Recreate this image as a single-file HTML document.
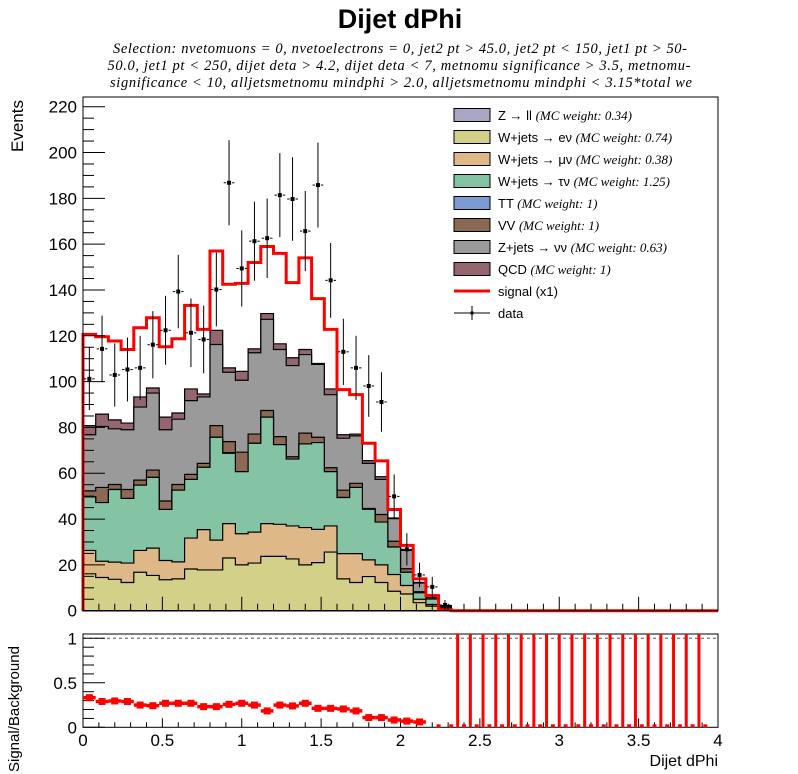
<!DOCTYPE html>
<html><head><meta charset="utf-8"><style>
html,body{margin:0;padding:0;background:#fff;}
svg{display:block;}
text{font-family:"Liberation Sans",sans-serif;}
.ser{font-family:"Liberation Serif",serif;font-style:italic;}
</style></head><body>
<svg id="c" width="798" height="774" viewBox="0 0 798 774" xmlns="http://www.w3.org/2000/svg">
<text x="400" y="28" text-anchor="middle" font-size="27" font-weight="bold">Dijet dPhi</text>
<text class="ser" x="400" y="53" text-anchor="middle" font-size="14.5" textLength="574">Selection: nvetomuons = 0, nvetoelectrons = 0, jet2 pt &gt; 45.0, jet2 pt &lt; 150, jet1 pt &gt; 50-</text>
<text class="ser" x="399" y="70" text-anchor="middle" font-size="14.5" textLength="583">50.0, jet1 pt &lt; 250, dijet deta &gt; 4.2, dijet deta &lt; 7, metnomu significance &gt; 3.5, metnomu-</text>
<text class="ser" x="401" y="87" text-anchor="middle" font-size="14.5" textLength="582">significance &lt; 10, alljetsmetnomu mindphi &gt; 2.0, alljetsmetnomu mindphi &lt; 3.15*total we</text>
<text transform="translate(23,152) rotate(-90)" font-size="17">Events</text>
<text transform="translate(19,772) rotate(-90)" font-size="15">Signal/Background</text>
<text x="718" y="766" text-anchor="end" font-size="16">Dijet dPhi</text>
<g id="main"></g>
<g id="ratio"></g>
<g id="legend"></g>
</svg>
<script>
const nBins = 50, xMin = 0, xMax = 4;
const zll = [0,0,0,0,0,0,0,0,0,0,0,0,0,0,0,0,0,0,0,0,0,0,0,0,0,0,0,0,0,0,0,0,0,0,0,0,0,0,0,0,0,0,0,0,0,0,0,0,0,0];
const wen = [16.1,14.5,13.7,12.3,16.8,15.4,13.5,13.9,18.2,17.8,17.8,23.0,20.0,20.8,23.7,23.7,22.6,20.0,21.0,25.6,13.9,12.3,14.9,12.3,8.5,7.3,3.5,2.0,0.6,0,0,0,0,0,0,0,0,0,0,0,0,0,0,0,0,0,0,0,0,0];
const wmn = [10.2,7.1,7.5,8.5,9.5,11.9,8.4,7.4,13.5,17.6,13.0,15.0,13.6,13.5,14.3,14.0,14.4,16.3,14.5,11.4,11.0,12.6,7.3,7.7,7.3,3.7,1.5,0.7,0.4,0,0,0,0,0,0,0,0,0,0,0,0,0,0,0,0,0,0,0,0,0];
const wtn = [23.4,25.6,31.7,28.2,28.5,30.9,22.3,31.3,25.6,27.2,44.9,30.7,27.1,38.8,46.5,34.8,29.2,36.5,37.9,23.7,24.5,28.9,22.1,18.7,12.0,5.8,2.8,2.4,0.5,0,0,0,0,0,0,0,0,0,0,0,0,0,0,0,0,0,0,0,0,0];
const ttb = [0,0,0,0,0,0,0,0,0,0,0,0.3,0,0,0,0,0,0,0,0,0,0,0,0,0,0,0,0,0,0,0,0,0,0,0,0,0,0,0,0,0,0,0,0,0,0,0,0,0,0];
const vv  = [2.6,6.6,2.2,3.9,2.2,3.2,3.7,2.5,2.2,1.7,5.1,4.8,8.5,4.0,2.9,3.5,1.0,4.7,2.3,1.7,3.2,1.8,0.3,3.3,2.5,1.5,0.5,0.7,0.2,0,0,0,0,0,0,0,0,0,0,0,0,0,0,0,0,0,0,0,0,0];
const znn = [24.5,26.6,24.3,26.1,31.9,33.6,31.1,28.5,32.2,29.0,35.4,30.3,31.4,35.5,39.8,38.0,39.8,34.3,31.8,31.9,22.7,20.7,19.7,15.3,9.9,8.0,3.8,0.8,0.3,0,0,0,0,0,0,0,0,0,0,0,0,0,0,0,0,0,0,0,0,0];
const qcd = [4.0,5.4,3.9,2.9,4.4,2.2,5.5,2.7,5.1,1.3,6.2,1.9,3.9,1.7,2.5,2.5,3.4,2.2,0.4,2.5,1.5,0.8,1.2,1.2,0.3,0.3,0.3,0.3,0.2,0,0,0,0,0,0,0,0,0,0,0,0,0,0,0,0,0,0,0,0,0];
const signal = [120.6,119.6,117.7,114,123.5,127.9,115.2,118.7,133.3,122.8,157,142.5,142.9,152,159,156,143.2,154,136.2,122.8,96.5,94.3,73.1,65.4,44.2,28.5,13.9,6.6,0.4,0,0,0,0,0,0,0,0,0,0,0,0,0,0,0,0,0,0,0,0,0];
const data = [101.2,114.3,102.9,105.3,106,116.1,122.4,139.3,121.3,118.4,140.2,186.8,149.4,161.3,162.6,181.4,179.7,165.7,185.8,144.2,113,106,98.1,91.1,49.9,26.8,15.6,10.4,2.5,0,0,0,0,0,0,0,0,0,0,0,0,0,0,0,0,0,0,0,0,0];
const ratio = [0.333,0.29,0.296,0.29,0.25,0.243,0.27,0.27,0.27,0.232,0.232,0.258,0.27,0.25,0.184,0.25,0.24,0.27,0.213,0.213,0.206,0.184,0.109,0.109,0.082,0.07,0.06,0,0,0,0,0,0,0,0,0,0,0,0,0,0,0,0,0,0,0,0,0,0,0];
const ratioErr = [0.025,0.025,0.025,0.025,0.025,0.025,0.025,0.025,0.025,0.025,0.025,0.025,0.025,0.025,0.025,0.025,0.025,0.025,0.025,0.025,0.025,0.025,0.025,0.025,0.025,0.025,0.025,0,0,1.2,1.2,1.2,1.2,1.2,1.2,1.2,1.2,1.2,1.2,1.2,1.2,1.2,1.2,1.2,1.2,1.2,1.2,1.2,1.2,0];
const yTicks = [0,20,40,60,80,100,120,140,160,180,200,220];
const xTickLabels = [0,0.5,1,1.5,2,2.5,3,3.5,4];
const ratioTicks = [0,0.5,1];
const legendLabels = ["Z \u2192 ll","W+jets \u2192 e\u03bd","W+jets \u2192 \u03bc\u03bd","W+jets \u2192 \u03c4\u03bd","TT","VV","Z+jets \u2192 \u03bd\u03bd","QCD"];
const legendWeights = ["0.34","0.74","0.38","1.25","1","1","0.63","1"];

const NS = "http://www.w3.org/2000/svg";
const L = 83, R = 718, T = 97, B = 610.7;
const RT = 634, RB = 727.3;
const colors = ["#a9a6c6","#d3d08a","#dfb887","#84c3a3","#7b9bd1","#8b6955","#9a9a9a","#946670"];
const X = v => L + (v - xMin) / (xMax - xMin) * (R - L);
const Y = v => B - v * (B - 106.7) / 220;
const RY = v => Math.max(RT, 727.3 - v * 89);
const bw = (xMax - xMin) / nBins;
function mk(tag, attrs, parent){ const e = document.createElementNS(NS, tag); for (const k in attrs) e.setAttribute(k, attrs[k]); parent.appendChild(e); return e; }
const main = document.getElementById('main');
const ratioG = document.getElementById('ratio');
const legend = document.getElementById('legend');

const comps = [zll, wen, wmn, wtn, ttb, vv, znn, qcd];
const names = ['stack-zll','stack-w-enu','stack-w-munu','stack-w-taunu','stack-ttbar','stack-vv','stack-z-nunu','stack-qcd'];
const cum = [];
let run = new Array(nBins).fill(0);
for (let c = 0; c < comps.length; c++){ run = run.map((v,i)=>v+comps[c][i]); cum.push(run.slice()); }
for (let c = comps.length - 1; c >= 0; c--){
  let d = `M${X(0)},${B}`;
  for (let i = 0; i < nBins; i++){ const y = Y(cum[c][i]); d += ` L${X(i*bw)},${y} L${X((i+1)*bw)},${y}`; }
  d += ` L${X(xMax)},${B} Z`;
  const p = mk('path', {d:d, fill:colors[c], stroke:'#000', 'stroke-width':1.2}, main);
  
  
}
{
  let d = `M${X(0)},${B}`;
  for (let i = 0; i < nBins; i++){ const y = Y(signal[i]); d += ` L${X(i*bw)},${y} L${X((i+1)*bw)},${y}`; }
  const p = mk('path', {d:d, fill:'none', stroke:'#ff0000', 'stroke-width':3}, main);
  
  
}
for (let i = 0; i < nBins; i++){
  if (data[i] <= 0) continue;
  const g = mk('g', {}, main);
  
  
  const cx = X((i+0.5)*bw), cy = Y(data[i]), e = 1.36*Math.sqrt(data[i]);
  mk('line', {x1:cx, x2:cx, y1:Math.max(T,Y(data[i]+e)), y2:Math.min(B,Y(data[i]-e)), stroke:'#000', 'stroke-width':1}, g);
  mk('line', {x1:X(i*bw)+1, x2:cx-3, y1:cy, y2:cy, stroke:'#000', 'stroke-width':1}, g);
  mk('line', {x1:cx+3, x2:X((i+1)*bw)-1, y1:cy, y2:cy, stroke:'#000', 'stroke-width':1}, g);
  mk('rect', {x:cx-2, y:cy-2, width:4, height:4, fill:'#000'}, g);
}
const fr = mk('rect', {x:L, y:T, width:R-L, height:B-T, fill:'none', stroke:'#000', 'stroke-width':1}, main);


for (let v = 0; v <= 220; v += 5){
  const maj = v % 20 === 0;
  mk('line', {x1:L, x2:L+(maj?22:11), y1:Y(v), y2:Y(v), stroke:'#000', 'stroke-width':1}, main);
}
yTicks.forEach(v => {
  const t = mk('text', {x:77, y:Y(v)+6, 'text-anchor':'end', 'font-size':17}, main);
  t.textContent = v;
  
  
});
for (let k = 0; k <= 40; k++){
  const v = k*0.1, maj = k % 5 === 0;
  mk('line', {x1:X(v), x2:X(v), y1:B, y2:B-(maj?14:7), stroke:'#000', 'stroke-width':1}, main);
  mk('line', {x1:X(v), x2:X(v), y1:RB, y2:RB-(maj?9:5), stroke:'#000', 'stroke-width':1}, ratioG);
}
const rf = mk('rect', {x:L, y:RT, width:R-L, height:RB-RT, fill:'none', stroke:'#000', 'stroke-width':1}, ratioG);


const dl = mk('line', {x1:L, x2:R, y1:RY(1), y2:RY(1), stroke:'#555', 'stroke-width':1, 'stroke-dasharray':'3,3'}, ratioG);


for (let v = 0; v <= 1.0001; v += 0.1){
  const maj = Math.abs(v*2 - Math.round(v*2)) < 1e-6;
  mk('line', {x1:L, x2:L+(maj?22:11), y1:RY(v), y2:RY(v), stroke:'#000', 'stroke-width':1}, ratioG);
}
ratioTicks.forEach(v => {
  const t = mk('text', {x:77, y:RY(v)+6, 'text-anchor':'end', 'font-size':17}, ratioG);
  t.textContent = v;
  
  
});
xTickLabels.forEach(v => {
  const t = mk('text', {x:X(v), y:746, 'text-anchor':'middle', 'font-size':17}, ratioG);
  t.textContent = v;
  
  
});
for (let i = 0; i < nBins; i++){
  const g = mk('g', {}, ratioG);
  
  
  const cx = X((i+0.5)*bw), cy = RY(ratio[i]);
  if (ratio[i] > 0){
    mk('line', {x1:X(i*bw), x2:X((i+1)*bw), y1:cy, y2:cy, stroke:'#ff0000', 'stroke-width':3.5}, g);
    mk('line', {x1:cx, x2:cx, y1:RY(ratio[i]+ratioErr[i]), y2:RY(ratio[i]-ratioErr[i]), stroke:'#ff0000', 'stroke-width':3.5}, g);
    mk('rect', {x:cx-3.5, y:cy-3.5, width:7, height:7, fill:'#ff0000'}, g);
  } else if (i >= 28) {
    mk('line', {x1:X(i*bw)-2, x2:X(i*bw)+2, y1:RB-1.5, y2:RB-1.5, stroke:'#ff0000', 'stroke-width':3}, g);
    if (ratioErr[i] > 0) mk('line', {x1:cx, x2:cx, y1:RY(ratioErr[i]), y2:RB, stroke:'#ff0000', 'stroke-width':3}, g);
  }
}
for (let k = 0; k < 8; k++){
  const y = 115 + k*22;
  const r = mk('rect', {x:454, y:y-6.5, width:36, height:13, fill:colors[k], stroke:'#000', 'stroke-width':1}, legend);
  
  
  const t = mk('text', {x:498, y:y+5, 'font-size':13}, legend);
  
  
  const a = mk('tspan', {}, t); a.textContent = legendLabels[k] + ' ';
  const b = mk('tspan', {'class':'ser', 'font-size':13}, t); b.textContent = '(MC weight: ' + legendWeights[k] + ')';
}
{
  const y = 291;
  const l = mk('line', {x1:454, x2:490, y1:y, y2:y, stroke:'#ff0000', 'stroke-width':3}, legend);
  
  
  const t = mk('text', {x:498, y:y+5, 'font-size':13}, legend);
  t.textContent = 'signal (x1)';
  
  
  const y2 = 313;
  const g = mk('g', {}, legend);
  
  
  mk('line', {x1:454, x2:490, y1:y2, y2:y2, stroke:'#000', 'stroke-width':1}, g);
  mk('line', {x1:472, x2:472, y1:y2-7, y2:y2+7, stroke:'#000', 'stroke-width':1}, g);
  mk('rect', {x:470.5, y:y2-1.5, width:3, height:3, fill:'#000'}, g);
  const t2 = mk('text', {x:498, y:y2+5, 'font-size':13}, legend);
  t2.textContent = 'data';
  
  
}
</script>
</body></html>
